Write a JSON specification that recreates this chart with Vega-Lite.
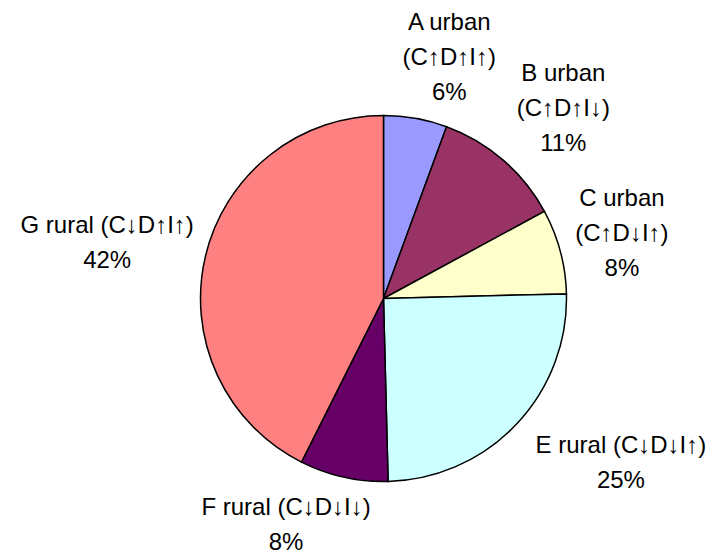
{
  "$schema": "https://vega.github.io/schema/vega-lite/v6.json",
  "width": 659,
  "height": 513,
  "autosize": "none",
  "padding": {"left": 54, "top": 42, "right": 0, "bottom": 0},
  "background": "white",
  "view": {"stroke": null},
  "config": {"text": {"font": "Liberation Sans, DejaVu Sans", "fontSize": 24, "lineHeight": 35, "align": "center", "baseline": "middle", "lineBreak": "\n", "color": "black"}},
  "data": {"values": [
    {"group": "A", "order": 1, "value": 5.6, "label": "A urban\n(C↑D↑I↑)\n6%"},
    {"group": "B", "order": 2, "value": 11.5, "label": "B urban\n(C↑D↑I↓)\n11%"},
    {"group": "C", "order": 3, "value": 7.5, "label": "C urban\n(C↑D↓I↑)\n8%"},
    {"group": "E", "order": 4, "value": 25.0, "label": "E rural (C↓D↓I↑)\n25%"},
    {"group": "F", "order": 5, "value": 7.8, "label": "F rural (C↓D↓I↓)\n8%"},
    {"group": "G", "order": 6, "value": 42.6, "label": "G rural (C↓D↑I↑)\n42%"}
  ]},
  "transform": [
    {"stack": "value", "groupby": [], "sort": [{"field": "order", "order": "ascending"}], "as": ["v0", "v1"]},
    {"calculate": "(datum.v0 + datum.v1) / 2", "as": "vmid"}
  ],
  "layer": [
    {
      "mark": {"type": "arc", "outerRadius": 183, "stroke": "black", "strokeWidth": 1.5},
      "encoding": {
        "theta": {"field": "v0", "type": "quantitative", "scale": {"domain": [0, 100]}},
        "theta2": {"field": "v1"},
        "color": {"field": "group", "type": "nominal", "legend": null,
          "scale": {"domain": ["A", "B", "C", "E", "F", "G"],
                    "range": ["#9999FF", "#993366", "#FFFFCC", "#CCFFFF", "#660066", "#FF8080"]}}
      }
    },
    {
      "transform": [{"filter": "datum.group === 'A'"}],
      "mark": {"type": "text", "radius": 250, "dx": 22, "dy": -29},
      "encoding": {"theta": {"field": "vmid", "type": "quantitative", "scale": {"domain": [0, 100]}}, "text": {"field": "label"}}
    },
    {
      "transform": [{"filter": "datum.group === 'B'"}],
      "mark": {"type": "text", "radius": 255, "dx": 13, "dy": -32},
      "encoding": {"theta": {"field": "vmid", "type": "quantitative", "scale": {"domain": [0, 100]}}, "text": {"field": "label"}}
    },
    {
      "transform": [{"filter": "datum.group === 'C'"}],
      "mark": {"type": "text", "radius": 255, "dx": -8, "dy": -34},
      "encoding": {"theta": {"field": "vmid", "type": "quantitative", "scale": {"domain": [0, 100]}}, "text": {"field": "label"}}
    },
    {
      "transform": [{"filter": "datum.group === 'E'"}],
      "mark": {"type": "text", "radius": 260, "dx": 49, "dy": -32},
      "encoding": {"theta": {"field": "vmid", "type": "quantitative", "scale": {"domain": [0, 100]}}, "text": {"field": "label"}}
    },
    {
      "transform": [{"filter": "datum.group === 'F'"}],
      "mark": {"type": "text", "radius": 245, "dx": -44, "dy": -30},
      "encoding": {"theta": {"field": "vmid", "type": "quantitative", "scale": {"domain": [0, 100]}}, "text": {"field": "label"}}
    },
    {
      "transform": [{"filter": "datum.group === 'G'"}],
      "mark": {"type": "text", "radius": 285, "dx": 1, "dy": -7},
      "encoding": {"theta": {"field": "vmid", "type": "quantitative", "scale": {"domain": [0, 100]}}, "text": {"field": "label"}}
    }
  ]
}
